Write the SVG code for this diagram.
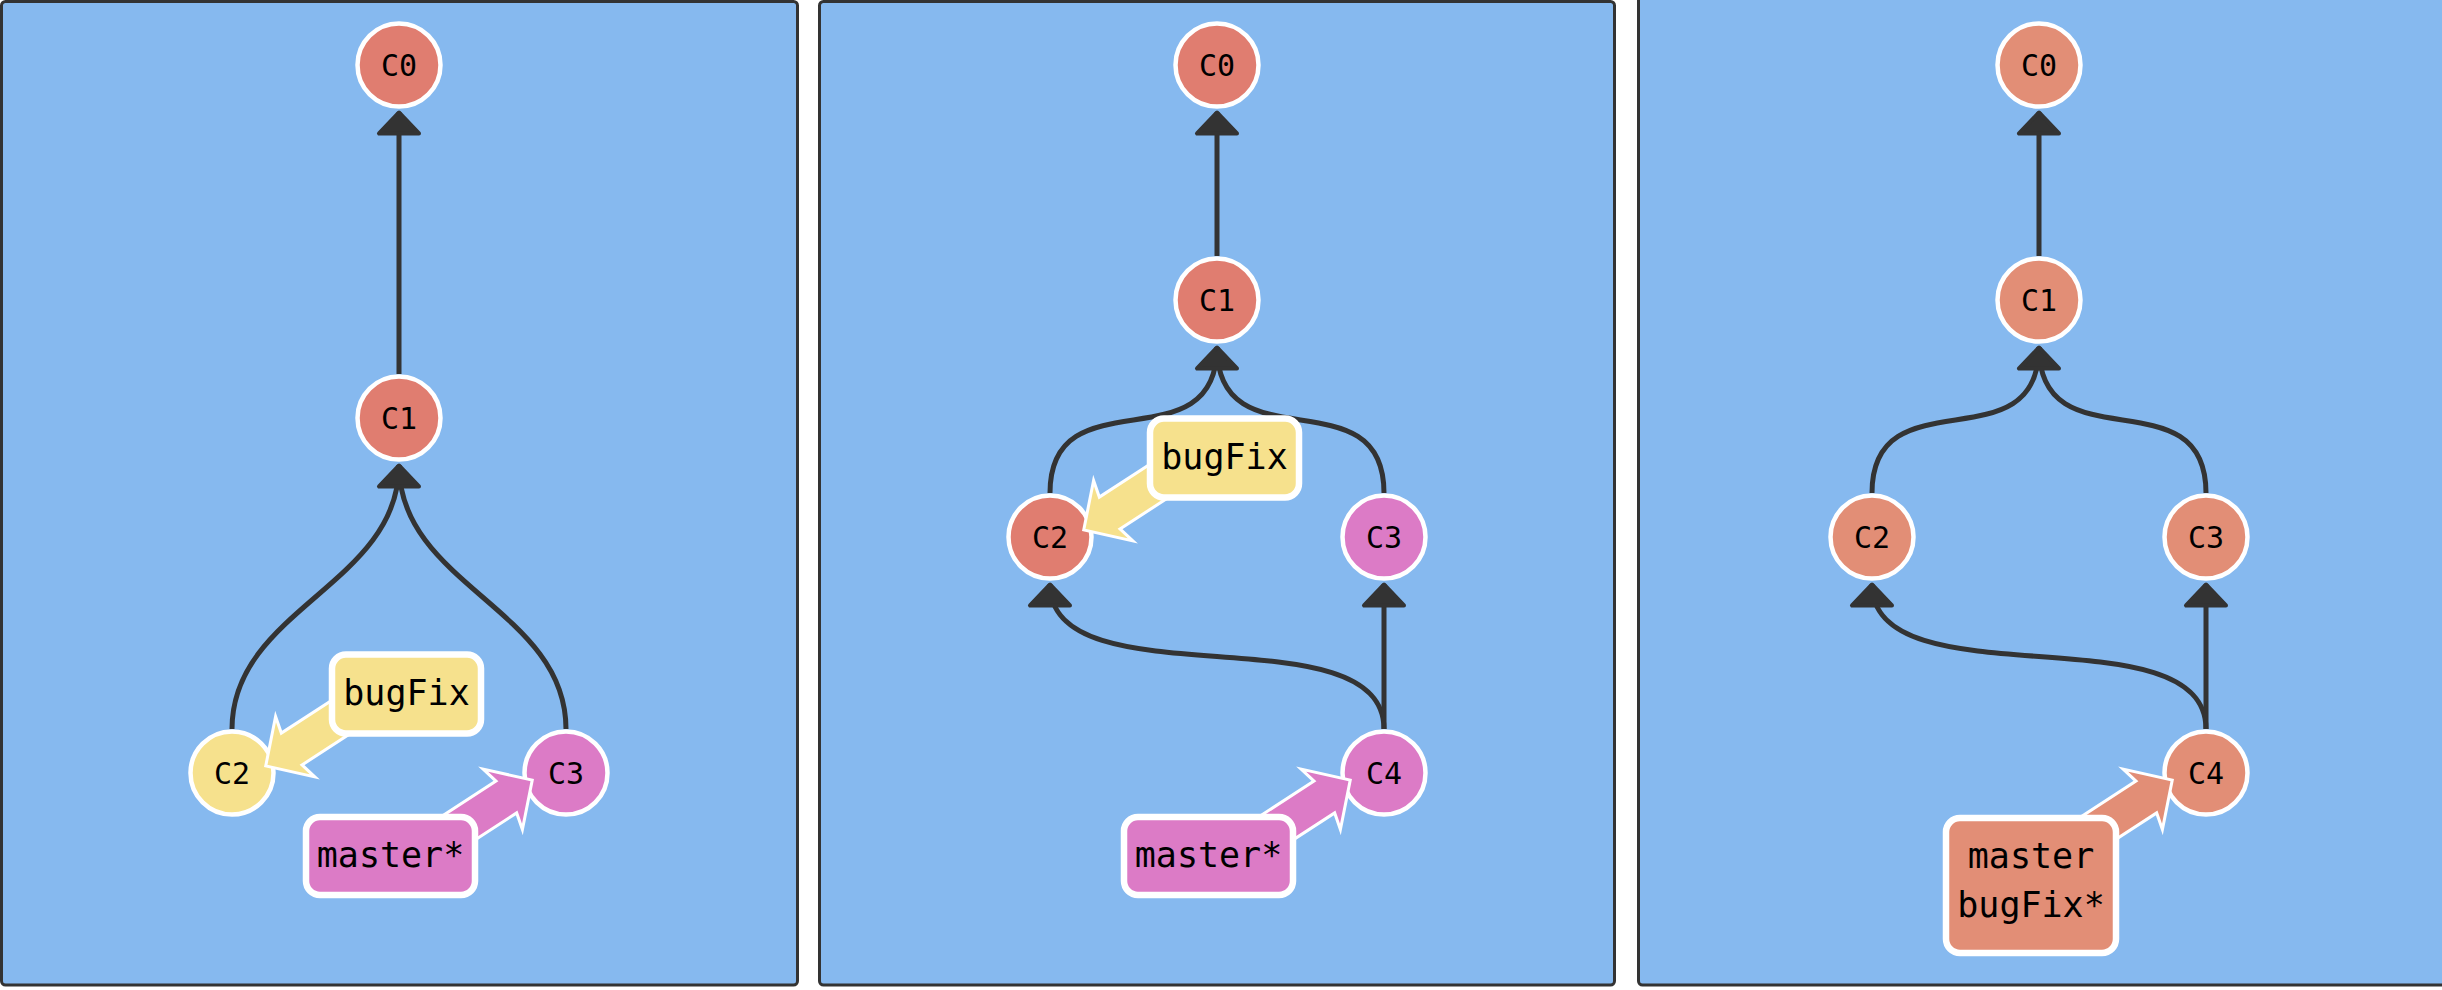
<svg xmlns="http://www.w3.org/2000/svg" width="2442" height="990" viewBox="0 0 2442 990">
<style>
.panel{fill:#86B9EF;stroke:#333333;stroke-width:3}
.edge{fill:none;stroke:#333333;stroke-width:5}
.ahead{fill:#333333;stroke:#333333;stroke-width:4;stroke-linejoin:round}
.commit{stroke:#FFFFFF;stroke-width:4.5}
.red{fill:#E07D70}
.salmon{fill:#E28E76}
.yellow{fill:#F6E18D}
.pink{fill:#DC7BC6}
.ctext{font-family:"DejaVu Sans Mono",Menlo,"Liberation Mono",monospace;font-size:30px;text-anchor:middle;fill:#000000}
.btext{font-family:"DejaVu Sans Mono",Menlo,"Liberation Mono",monospace;font-size:35px;text-anchor:middle;fill:#000000}
.blabel{stroke:#FFFFFF;stroke-width:6.5}
.barrow{stroke:#FFFFFF;stroke-width:3;stroke-linejoin:miter;stroke-miterlimit:5}
</style>
<defs>
<path id="arrowShape" d="M2.1,0 L37.2,-36 L33,-19 L130,-19 L130,19 L33,19 L37.2,36 Z"/>
</defs>
<rect x="0" y="0" width="2442" height="990" fill="#FFFFFF"/>
<g id="panels">
<rect class="panel" x="1.5" y="1.5" width="796" height="983.5" rx="4"/>
<rect class="panel" x="819.5" y="1.5" width="795" height="983.5" rx="4"/>
<rect class="panel" x="1638.5" y="-10" width="820" height="995" rx="4"/>
</g>
<g id="connectors">
<!-- panel 1 -->
<path class="edge" d="M399,374 L399,112"/>
<polygon class="ahead" points="399,112.5 379,133.5 419,133.5"/>
<path class="edge" d="M232,729 C232,609 399,585 399,465"/>
<path class="edge" d="M566,729 C566,609 399,585 399,465"/>
<polygon class="ahead" points="399,465.5 379,486.5 419,486.5"/>
<!-- panel 2 -->
<path class="edge" d="M1217,256 L1217,112"/>
<polygon class="ahead" points="1217,112.5 1197,133.5 1237,133.5"/>
<path class="edge" d="M1050,493 C1050,373 1217,467 1217,347"/>
<path class="edge" d="M1384,493 C1384,373 1217,467 1217,347"/>
<polygon class="ahead" points="1217,347.5 1197,368.5 1237,368.5"/>
<path class="edge" d="M1384,729 C1384,609 1050,704 1050,584"/>
<polygon class="ahead" points="1050,584.5 1030,605.5 1070,605.5"/>
<path class="edge" d="M1384,729 L1384,584"/>
<polygon class="ahead" points="1384,584.5 1364,605.5 1404,605.5"/>
<!-- panel 3 -->
<path class="edge" d="M2039,256 L2039,112"/>
<polygon class="ahead" points="2039,112.5 2019,133.5 2059,133.5"/>
<path class="edge" d="M1872,493 C1872,373 2039,467 2039,347"/>
<path class="edge" d="M2206,493 C2206,373 2039,467 2039,347"/>
<polygon class="ahead" points="2039,347.5 2019,368.5 2059,368.5"/>
<path class="edge" d="M2206,729 C2206,609 1872,704 1872,584"/>
<polygon class="ahead" points="1872,584.5 1852,605.5 1892,605.5"/>
<path class="edge" d="M2206,729 L2206,584"/>
<polygon class="ahead" points="2206,584.5 2186,605.5 2226,605.5"/>
</g>
<g id="p1-C0"><circle class="commit red" cx="399" cy="65" r="41.5"/><text class="ctext" x="399" y="75.5">C0</text></g>
<g id="p1-C1"><circle class="commit red" cx="399" cy="418" r="41.5"/><text class="ctext" x="399" y="428.5">C1</text></g>
<g id="p1-C2"><circle class="commit yellow" cx="232" cy="773" r="41.5"/><text class="ctext" x="232" y="783.5">C2</text></g>
<g id="p1-C3"><circle class="commit pink" cx="566" cy="773" r="41.5"/><text class="ctext" x="566" y="783.5">C3</text></g>
<g id="p2-C0"><circle class="commit red" cx="1217" cy="65" r="41.5"/><text class="ctext" x="1217" y="75.5">C0</text></g>
<g id="p2-C1"><circle class="commit red" cx="1217" cy="300" r="41.5"/><text class="ctext" x="1217" y="310.5">C1</text></g>
<g id="p2-C2"><circle class="commit red" cx="1050" cy="537" r="41.5"/><text class="ctext" x="1050" y="547.5">C2</text></g>
<g id="p2-C3"><circle class="commit pink" cx="1384" cy="537" r="41.5"/><text class="ctext" x="1384" y="547.5">C3</text></g>
<g id="p2-C4"><circle class="commit pink" cx="1384" cy="773" r="41.5"/><text class="ctext" x="1384" y="783.5">C4</text></g>
<g id="p3-C0"><circle class="commit salmon" cx="2039" cy="65" r="41.5"/><text class="ctext" x="2039" y="75.5">C0</text></g>
<g id="p3-C1"><circle class="commit salmon" cx="2039" cy="300" r="41.5"/><text class="ctext" x="2039" y="310.5">C1</text></g>
<g id="p3-C2"><circle class="commit salmon" cx="1872" cy="537" r="41.5"/><text class="ctext" x="1872" y="547.5">C2</text></g>
<g id="p3-C3"><circle class="commit salmon" cx="2206" cy="537" r="41.5"/><text class="ctext" x="2206" y="547.5">C3</text></g>
<g id="p3-C4"><circle class="commit salmon" cx="2206" cy="773" r="41.5"/><text class="ctext" x="2206" y="783.5">C4</text></g>
<g id="p1-bugFix">
<use href="#arrowShape" class="barrow yellow" transform="translate(264,767) rotate(-33)"/>
<rect class="blabel yellow" x="332" y="654.5" width="149" height="79" rx="14"/>
<text class="btext" x="406.5" y="704.5">bugFix</text>
</g>
<g id="p1-master">
<use href="#arrowShape" class="barrow pink" transform="translate(534,779) rotate(147)"/>
<rect class="blabel pink" x="306" y="817" width="169" height="78" rx="14"/>
<text class="btext" x="390.5" y="866.5">master*</text>
</g>
<g id="p2-bugFix">
<use href="#arrowShape" class="barrow yellow" transform="translate(1082,531) rotate(-33)"/>
<rect class="blabel yellow" x="1150" y="418.5" width="149" height="79" rx="14"/>
<text class="btext" x="1224.5" y="468.5">bugFix</text>
</g>
<g id="p2-master">
<use href="#arrowShape" class="barrow pink" transform="translate(1352,779) rotate(147)"/>
<rect class="blabel pink" x="1124" y="817" width="169" height="78" rx="14"/>
<text class="btext" x="1208.5" y="866.5">master*</text>
</g>
<g id="p3-master-bugFix">
<use href="#arrowShape" class="barrow salmon" transform="translate(2174,779) rotate(147)"/>
<rect class="blabel salmon" x="1946" y="818" width="170" height="135" rx="14"/>
<text class="btext" x="2031" y="868">master</text>
<text class="btext" x="2031" y="916.5">bugFix*</text>
</g>
</svg>
